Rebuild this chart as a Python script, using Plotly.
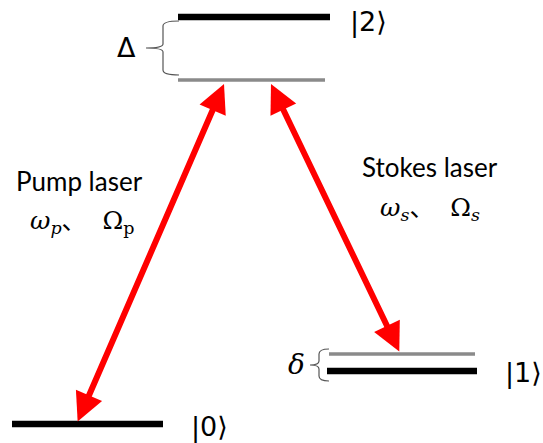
import plotly.graph_objects as go

W, H = 543, 443

# energy levels (pixel-space data coordinates)
level_names = ["|2⟩", "|1⟩", "|0⟩"]
level_x0 = [178, 327, 12]
level_x1 = [330, 477, 163]
level_y = [17, 371, 424]
label_x = [368, 523, 209]
label_y = [22, 373, 427]

virtual_x0 = [178, 329]
virtual_x1 = [325, 475]
virtual_y = [80, 354]

# arrows: both ends have heads
arrow_x0 = [77, 400]
arrow_y0 = [423, 353]
arrow_x1 = [224, 271]
arrow_y1 = [84, 84]

fig = go.Figure()

for x0, x1, y in zip(level_x0, level_x1, level_y):
    fig.add_trace(go.Scatter(x=[x0, x1], y=[y, y], mode="lines",
                             line=dict(color="black", width=6.5), hoverinfo="skip"))
for x0, x1, y in zip(virtual_x0, virtual_x1, virtual_y):
    fig.add_trace(go.Scatter(x=[x0, x1], y=[y, y], mode="lines",
                             line=dict(color="#8a8a8a", width=3.5), hoverinfo="skip"))

# braces
def brace(xe, xs, xt, y0, y1):
    ym = (y0 + y1) / 2
    return (f"M {xe},{y0} Q {xs},{y0} {xs},{y0+5} L {xs},{ym-4} "
            f"Q {xs},{ym} {xt},{ym} Q {xs},{ym} {xs},{ym+4} "
            f"L {xs},{y1-5} Q {xs},{y1} {xe},{y1}")

fig.add_shape(type="path", path=brace(179, 163, 146, 21, 75),
              line=dict(color="#555555", width=1.2), xref="x", yref="y")
fig.add_shape(type="path", path=brace(329, 319, 310, 349, 381),
              line=dict(color="#555555", width=1.2), xref="x", yref="y")

for x0, y0, x1, y1 in zip(arrow_x0, arrow_y0, arrow_x1, arrow_y1):
    fig.add_annotation(x=x1, y=y1, ax=x0, ay=y0, xref="x", yref="y",
                       axref="x", ayref="y", text="", showarrow=True,
                       arrowhead=2, startarrowhead=2, arrowside="end+start",
                       arrowsize=0.95, startarrowsize=0.95,
                       arrowwidth=6, arrowcolor="#ff0000")

for name, x, y in zip(level_names, label_x, label_y):
    fig.add_annotation(x=x, y=y, text=name, showarrow=False, xref="x", yref="y",
                       font=dict(family="DejaVu Sans", size=27, color="black"))

fig.add_annotation(x=126, y=47, text="Δ", showarrow=False,
                   font=dict(family="DejaVu Sans", size=27, color="black"))
fig.add_annotation(x=296, y=364, text="<i>δ</i>", showarrow=False,
                   font=dict(family="DejaVu Serif", size=28, color="black"))

fig.add_annotation(x=79, y=181, text="Pump laser", showarrow=False,
                   font=dict(family="Lato", size=26, color="black"))
fig.add_annotation(x=82, y=219,
                   text="<i>ω</i><sub><i>p</i></sub><span style='font-family:Noto Sans CJK SC'>、</span>  Ω<sub>p</sub>",
                   showarrow=False,
                   font=dict(family="DejaVu Serif", size=25, color="black"))
fig.add_annotation(x=430, y=167, text="Stokes laser", showarrow=False,
                   font=dict(family="Lato", size=26, color="black"))
fig.add_annotation(x=430, y=206,
                   text="<i>ω</i><sub><i>s</i></sub><span style='font-family:Noto Sans CJK SC'>、</span>  Ω<sub><i>s</i></sub>",
                   showarrow=False,
                   font=dict(family="DejaVu Serif", size=25, color="black"))

fig.update_layout(width=W, height=H, margin=dict(l=0, r=0, t=0, b=0),
                  paper_bgcolor="white", plot_bgcolor="white", showlegend=False,
                  xaxis=dict(range=[0, W], visible=False, fixedrange=True),
                  yaxis=dict(range=[H, 0], visible=False, fixedrange=True))

fig.write_html("out.html")
